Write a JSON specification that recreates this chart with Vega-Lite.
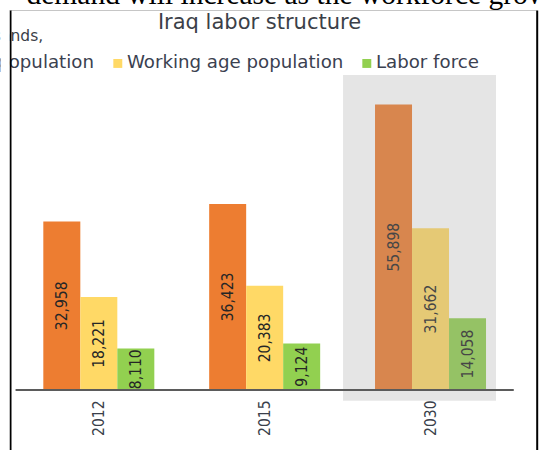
{
  "$schema": "https://vega.github.io/schema/vega-lite/v6.json",
  "width": 526,
  "height": 440,
  "autosize": {"type": "none"},
  "padding": {"left": 10, "top": 10, "right": 3, "bottom": 0},
  "background": "white",
  "config": {"view": {"stroke": null}},
  "datasets": {
    "labor": [
      {"year": "2012", "series": "Total population", "value": 32958},
      {"year": "2012", "series": "Working age population", "value": 18221},
      {"year": "2012", "series": "Labor force", "value": 8110},
      {"year": "2015", "series": "Total population", "value": 36423},
      {"year": "2015", "series": "Working age population", "value": 20383},
      {"year": "2015", "series": "Labor force", "value": 9124},
      {"year": "2030", "series": "Total population", "value": 55898},
      {"year": "2030", "series": "Working age population", "value": 31662},
      {"year": "2030", "series": "Labor force", "value": 14058}
    ],
    "highlight": [
      {"year": "2030"}
    ]
  },
  "data": {"name": "labor"},
  "layer": [
    {
      "mark": {"type": "bar"},
      "encoding": {
        "x": {
          "field": "year",
          "type": "nominal",
          "scale": {"paddingInner": 0.3307, "paddingOuter": 0.2511, "align": 0.4},
          "axis": {
            "orient": "bottom",
            "offset": -60,
            "domain": false,
            "ticks": false,
            "tickSize": 0,
            "grid": false,
            "labelAngle": 270,
            "labelAlign": "right",
            "labelBaseline": "middle",
            "labelPadding": 10,
            "labelFont": "DejaVu Sans Condensed, sans-serif",
            "labelFontSize": 15.5,
            "labelColor": "#3a3f4b",
            "title": "Iraq labor structure",
            "titleX": 249,
            "titleY": -362,
            "titleAngle": 0,
            "titleAlign": "center",
            "titleBaseline": "alphabetic",
            "titleFont": "DejaVu Sans",
            "titleFontSize": 21,
            "titleFontWeight": "normal",
            "titleColor": "#3b3f48",
            "titleLimit": 1000
          }
        },
        "xOffset": {
          "field": "series",
          "type": "nominal",
          "scale": {
            "domain": ["Total population", "Working age population", "Labor force"],
            "paddingInner": 0,
            "paddingOuter": 0
          }
        },
        "y": {
          "field": "value",
          "type": "quantitative",
          "scale": {"domain": [-11744, 74378], "nice": false, "zero": false},
          "axis": {
            "orient": "left",
            "offset": 0,
            "labels": false,
            "ticks": false,
            "grid": false,
            "domain": true,
            "domainColor": "#000000",
            "domainWidth": 2,
            "zindex": 2,
            "title": null
          }
        },
        "y2": {"datum": 0},
        "color": {
          "field": "series",
          "type": "nominal",
          "scale": {
            "domain": ["Total population", "Working age population", "Labor force"],
            "range": ["#ED7D31", "#FFD966", "#92D050"]
          },
          "legend": {
            "orient": "none",
            "legendX": -79.3,
            "legendY": 44,
            "direction": "horizontal",
            "title": null,
            "symbolType": "square",
            "symbolSize": 80,
            "symbolStrokeWidth": 0,
            "labelFont": "DejaVu Sans",
            "labelFontSize": 18.2,
            "labelColor": "#3b4150",
            "labelOffset": 0,
            "columnPadding": 14,
            "labelLimit": 400
          }
        }
      }
    },
    {
      "mark": {
        "type": "text",
        "angle": 270,
        "align": "center",
        "baseline": "middle",
        "font": "DejaVu Sans Condensed, sans-serif",
        "fontSize": 15.5,
        "color": "#262626"
      },
      "encoding": {
        "x": {"field": "year", "type": "nominal", "axis": null},
        "xOffset": {"field": "series", "type": "nominal"},
        "y": {
          "field": "value",
          "type": "quantitative",
          "scale": {"domain": [-23488, 148756], "nice": false, "zero": false},
          "axis": {
            "orient": "right",
            "offset": 0.7,
            "labels": false,
            "ticks": false,
            "grid": false,
            "domain": true,
            "domainColor": "#000000",
            "domainWidth": 2,
            "title": "Thousands,",
            "titleAngle": 0,
            "titleX": -494,
            "titleY": 30.5,
            "titleAlign": "right",
            "titleBaseline": "alphabetic",
            "titleFont": "DejaVu Sans",
            "titleFontSize": 15.5,
            "titleFontWeight": "normal",
            "titleColor": "#3b3f48",
            "titleLimit": 1000
          }
        },
        "text": {"field": "value", "type": "quantitative", "format": ",d"}
      }
    },
    {
      "data": {"name": "highlight"},
      "mark": {"type": "bar", "width": 153, "xOffset": -11, "color": "#a0a0a0", "opacity": 0.27},
      "encoding": {
        "x": {"field": "year", "type": "nominal", "axis": null},
        "y": {
          "datum": 61656,
          "type": "quantitative",
          "scale": {"domain": [-11744, 74378], "nice": false, "zero": false},
          "axis": {
            "orient": "left",
            "offset": 5.5,
            "labels": false,
            "ticks": false,
            "grid": false,
            "domain": true,
            "domainColor": "#ffffff",
            "domainWidth": 9,
            "zindex": 2,
            "title": null
          }
        },
        "y2": {"datum": -2094}
      }
    },
    {
      "data": {"values": [{}]},
      "mark": {"type": "rule", "color": "#5b5b5b", "strokeWidth": 2},
      "encoding": {
        "x": {
          "datum": "2012",
          "type": "nominal",
          "bandPosition": -0.25,
          "axis": {
            "orient": "top",
            "labels": false,
            "ticks": false,
            "grid": false,
            "domain": true,
            "domainColor": "#c6c6c6",
            "domainWidth": 1.2,
            "title": "demand will increase as the workforce grow",
            "titleX": 16,
            "titleY": -7,
            "titleAngle": 0,
            "titleAlign": "left",
            "titleBaseline": "alphabetic",
            "titleFont": "Liberation Serif",
            "titleFontSize": 29.5,
            "titleFontWeight": "normal",
            "titleColor": "#000000",
            "titleLimit": 2000
          }
        },
        "x2": {"datum": "2030", "bandPosition": 1.25},
        "y": {
          "datum": 0,
          "type": "quantitative",
          "scale": {"domain": [-11744, 74378], "nice": false, "zero": false},
          "axis": null
        }
      }
    }
  ],
  "resolve": {
    "scale": {"y": "independent"},
    "axis": {"x": "independent", "y": "independent"}
  }
}
